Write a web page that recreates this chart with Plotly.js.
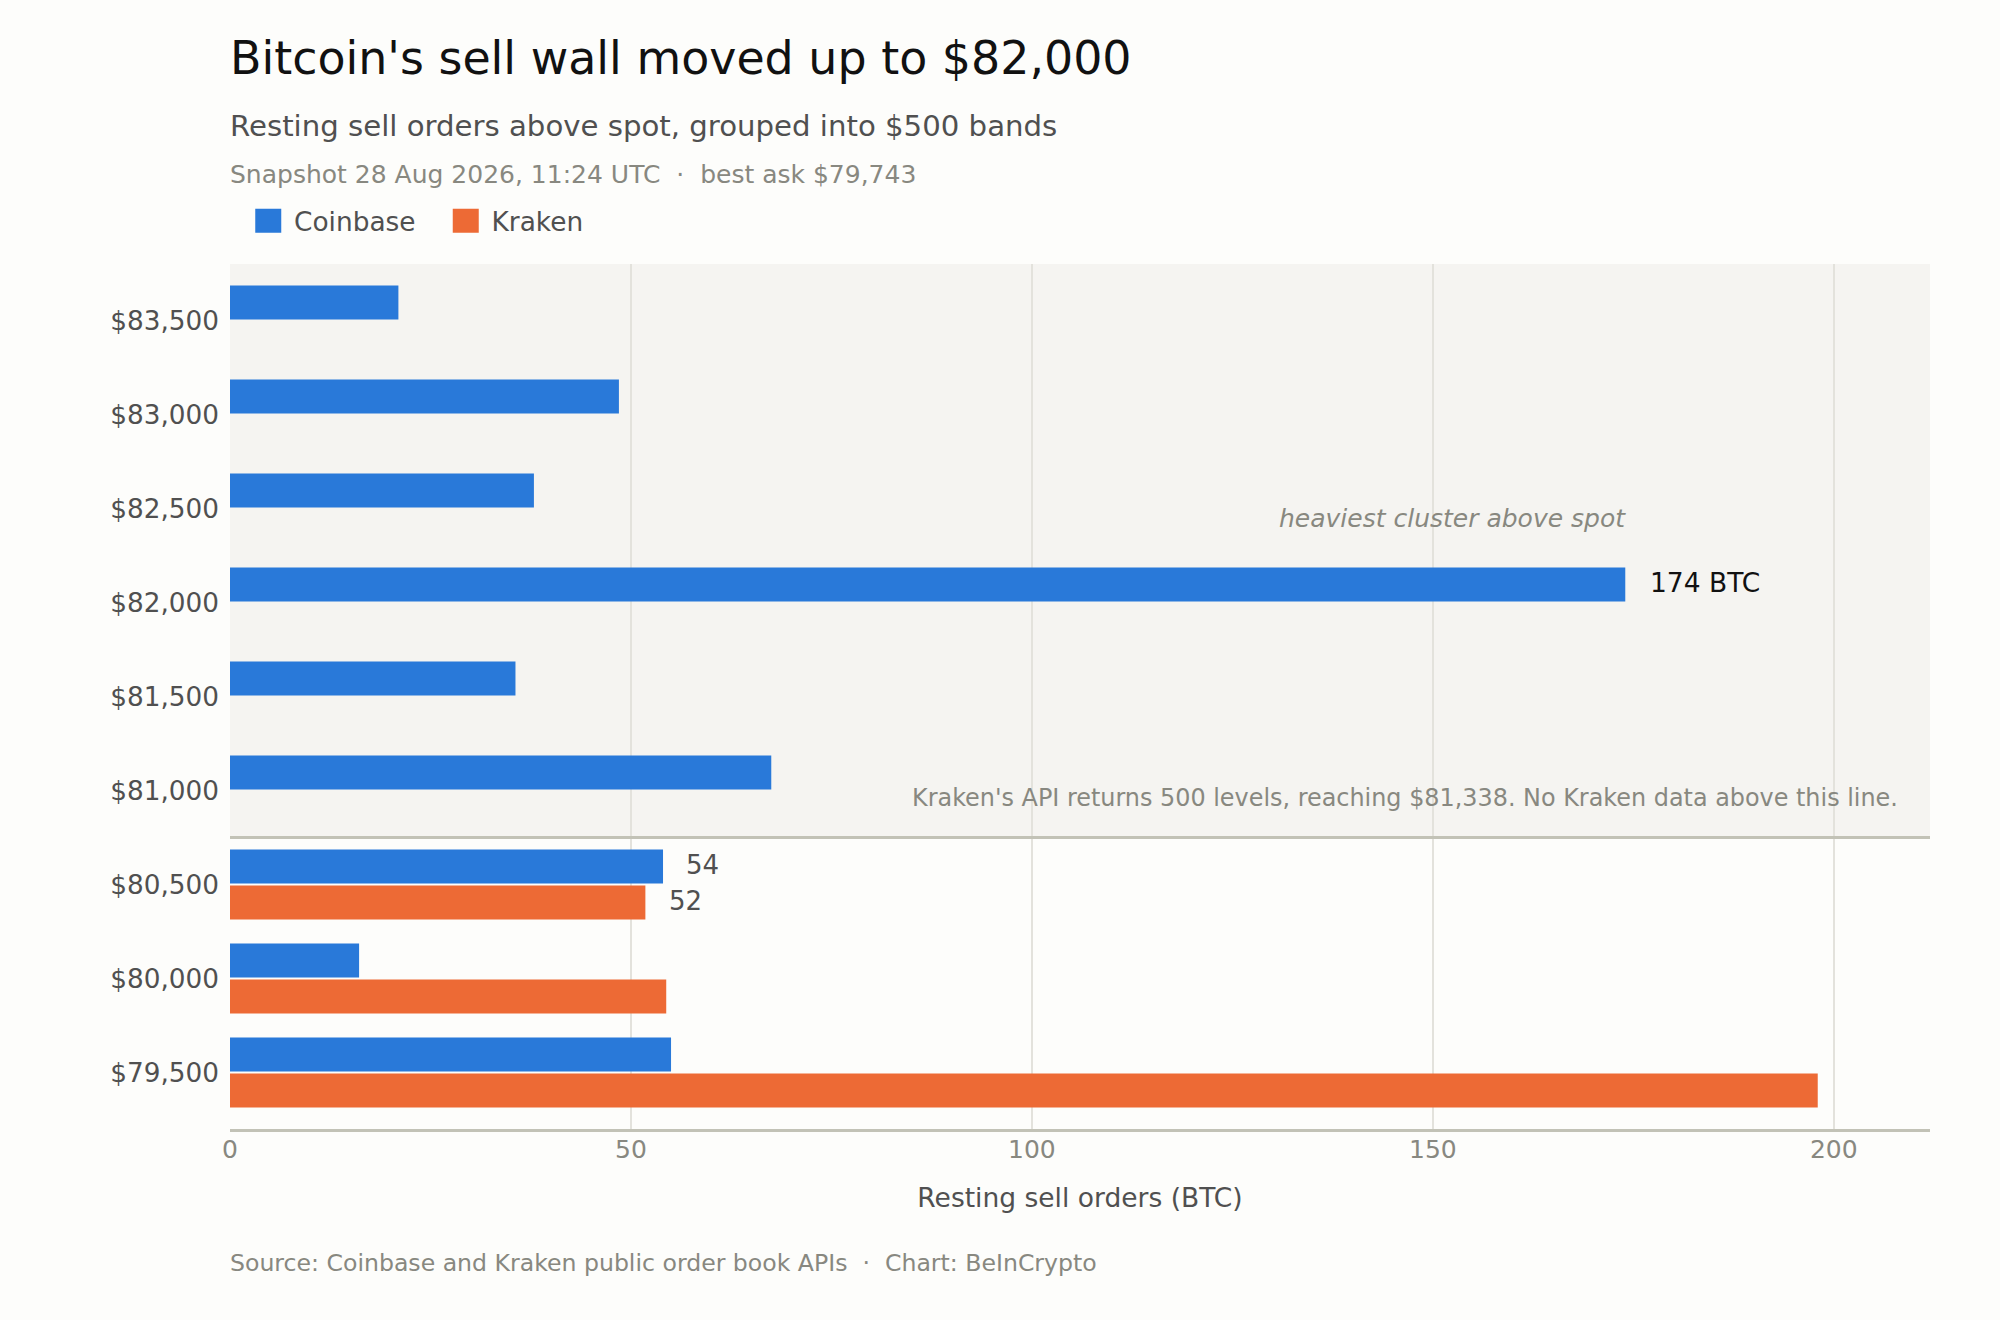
<!DOCTYPE html>
<html><head><meta charset="utf-8">
<script src="https://cdn.plot.ly/plotly-3.0.1.min.js"></script>
<style>html,body{margin:0;padding:0;background:#FDFDFB}</style></head>
<body><div id="chart" style="width:2000px;height:1320px"></div>
<script>
const bands = ["$83,500","$83,000","$82,500","$82,000","$81,500","$81,000","$80,500","$80,000","$79,500"];
const coinbase = [21,48.5,37.9,174,35.6,67.5,54,16.1,55];
const kraken = [null,null,null,null,null,null,51.8,54.4,198];
const xTicks = [0,50,100,150,200];
const FONT = "DejaVu Sans";
const TEXT='#505050', MUTED='#888880';
function note(text,x,y,size,color,anchor,shift){
  return {text:text,x:x,y:y,xref:'paper',yref:'paper',xanchor:anchor,yanchor:'middle',xshift:shift,showarrow:false,font:{family:FONT,size:size,color:color}};
}
const PW=1700, PH=865;
const px=v=>(v-230)/PW, py=v=>(1129-v)/PH;
const data=[
 {type:'bar',orientation:'h',name:'Coinbase',y:bands,x:coinbase,marker:{color:'#2979D9'},hoverinfo:'x+y'},
 {type:'bar',orientation:'h',name:'Kraken',y:bands,x:kraken,marker:{color:'#ED6A35'},hoverinfo:'x+y'}
];
const layout={
 width:2000,height:1320,
 paper_bgcolor:'#FDFDFB',plot_bgcolor:'#FDFDFB',
 margin:{l:230,r:70,t:264,b:191,pad:0},
 font:{family:FONT,color:TEXT},
 barmode:'group',bargap:0.234,bargroupgap:0.055,
 title:{text:"Bitcoin's sell wall moved up to $82,000",x:230/2000,xref:'container',xanchor:'left',y:1-58/1320,yref:'container',yanchor:'middle',font:{family:FONT,size:45.9,color:'#111111'},pad:{l:0,r:0,t:0,b:0}},
 xaxis:{range:[0,212],tickvals:xTicks,ticktext:xTicks.map(String),showgrid:true,gridcolor:'#E3E2DC',gridwidth:2,zeroline:false,showline:true,linecolor:'#C2C2B6',linewidth:2.5,ticks:'',ticklabelstandoff:-4,tickfont:{family:FONT,size:25,color:MUTED},
   title:{text:'Resting sell orders (BTC)',standoff:26,font:{family:FONT,size:26.5,color:TEXT}}},
 yaxis:{type:'category',categoryorder:'array',categoryarray:bands,range:[8.6,-0.6],showgrid:false,zeroline:false,showline:false,ticks:'',ticklabelstandoff:10,tickfont:{family:FONT,size:26.3,color:TEXT}},
 legend:{orientation:'h',xref:'container',yref:'container',x:242.5/2000,xanchor:'left',y:1-221/1320,yanchor:'middle',font:{family:FONT,size:26.4,color:TEXT},itemwidth:41.5,entrywidth:141,entrywidthmode:'pixels',bgcolor:'rgba(0,0,0,0)',itemclick:false,itemdoubleclick:false},
 shapes:[
  {type:'rect',layer:'below',xref:'paper',x0:0,x1:1,yref:'y',y0:-0.6,y1:5.5,fillcolor:'#F5F4F1',line:{width:0}},
  {type:'line',layer:'above',xref:'paper',x0:0,x1:1,yref:'y',y0:5.5,y1:5.5,line:{color:'#C2C2B6',width:3}}
 ],
 annotations:[
  note('Resting sell orders above spot, grouped into $500 bands',px(230),py(126),29.2,TEXT,'left',-2.5),
  note('Snapshot 28 Aug 2026, 11:24 UTC  ·  best ask $79,743',px(230),py(174.5),25,MUTED,'left',-2.5),
  note('Source: Coinbase and Kraken public order book APIs  ·  Chart: BeInCrypto',px(230),py(1263),23.6,MUTED,'left',-2.5),
  note("Kraken's API returns 500 levels, reaching $81,338. No Kraken data above this line.",px(1897),py(798),23.9,MUTED,'right',2.5),
  {text:'heaviest cluster above spot',x:coinbase[3],xref:'x',y:bands[3],yref:'y',xanchor:'right',yanchor:'middle',xshift:2.5,yshift:84,showarrow:false,font:{family:FONT,size:25,color:MUTED,style:'italic'}},
  {text:coinbase[3].toFixed(0)+' BTC',x:coinbase[3],xref:'x',y:bands[3],yref:'y',xanchor:'left',yanchor:'middle',xshift:23,yshift:19.5,showarrow:false,font:{family:FONT,size:26.5,color:'#111111'}},
  {text:coinbase[6].toFixed(0),x:coinbase[6],xref:'x',y:bands[6],yref:'y',xanchor:'left',yanchor:'middle',xshift:21,yshift:19.5,showarrow:false,font:{family:FONT,size:26,color:TEXT}},
  {text:kraken[6].toFixed(0),x:kraken[6],xref:'x',y:bands[6],yref:'y',xanchor:'left',yanchor:'middle',xshift:22,yshift:-16.5,showarrow:false,font:{family:FONT,size:26,color:TEXT}}
 ]
};
Plotly.newPlot('chart',data,layout,{displayModeBar:false,responsive:false}).then(()=>{
  document.querySelectorAll('#chart .legendbar, #chart .legendundefined').forEach(p=>p.setAttribute('d','M13,12H-13V-12H13Z'));
});
</script></body></html>
